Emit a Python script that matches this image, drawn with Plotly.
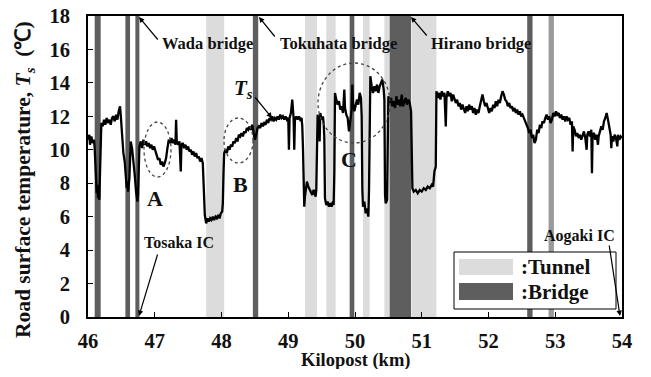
import plotly.graph_objects as go

# ---------------- data ----------------
kilopost = [
    46.00, 46.02, 46.03, 46.05, 46.07, 46.09, 46.10, 46.11,
    46.12, 46.13, 46.14, 46.15, 46.16, 46.17, 46.18, 46.19,
    46.20, 46.22, 46.24, 46.26, 46.28, 46.30, 46.32, 46.34,
    46.36, 46.38, 46.40, 46.42, 46.44, 46.46, 46.48, 46.49,
    46.50, 46.51, 46.52, 46.53, 46.55, 46.57, 46.58, 46.59,
    46.60, 46.62, 46.63, 46.64, 46.66, 46.68, 46.70, 46.72,
    46.74, 46.75, 46.76, 46.77, 46.79, 46.81, 46.83, 46.85,
    46.87, 46.89, 46.91, 46.93, 46.95, 46.97, 46.99, 47.01,
    47.03, 47.05, 47.07, 47.09, 47.11, 47.13, 47.15, 47.17,
    47.19, 47.21, 47.23, 47.25, 47.27, 47.29, 47.31, 47.32,
    47.33, 47.35, 47.37, 47.39, 47.40, 47.42, 47.44, 47.46,
    47.48, 47.50, 47.52, 47.54, 47.56, 47.58, 47.60, 47.62,
    47.64, 47.66, 47.68, 47.70, 47.72, 47.73, 47.74, 47.75,
    47.77, 47.79, 47.81, 47.83, 47.85, 47.87, 47.89, 47.91,
    47.93, 47.95, 47.97, 47.99, 48.01, 48.02, 48.03, 48.04,
    48.06, 48.08, 48.10, 48.12, 48.14, 48.16, 48.18, 48.20,
    48.22, 48.24, 48.26, 48.28, 48.30, 48.32, 48.34, 48.36,
    48.38, 48.40, 48.42, 48.44, 48.46, 48.48, 48.50, 48.52,
    48.54, 48.56, 48.58, 48.60, 48.62, 48.64, 48.66, 48.68,
    48.70, 48.72, 48.74, 48.76, 48.78, 48.80, 48.82, 48.84,
    48.86, 48.88, 48.90, 48.92, 48.94, 48.96, 48.98, 49.00,
    49.01, 49.02, 49.04, 49.06, 49.07, 49.08, 49.09, 49.10,
    49.12, 49.14, 49.16, 49.18, 49.20, 49.21, 49.22, 49.23,
    49.24, 49.25, 49.26, 49.28, 49.30, 49.32, 49.34, 49.36,
    49.38, 49.40, 49.41, 49.42, 49.43, 49.44, 49.45, 49.46,
    49.47, 49.48, 49.50, 49.52, 49.53, 49.54, 49.55, 49.57,
    49.59, 49.61, 49.63, 49.65, 49.67, 49.68, 49.69, 49.70,
    49.72, 49.74, 49.76, 49.78, 49.80, 49.82, 49.84, 49.85,
    49.87, 49.89, 49.91, 49.93, 49.95, 49.96, 49.97, 49.99,
    50.01, 50.03, 50.05, 50.07, 50.09, 50.10, 50.11, 50.12,
    50.14, 50.16, 50.18, 50.20, 50.21, 50.22, 50.23, 50.25,
    50.27, 50.29, 50.31, 50.33, 50.35, 50.37, 50.39, 50.41,
    50.43, 50.44, 50.45, 50.46, 50.48, 50.49, 50.50, 50.52,
    50.54, 50.56, 50.58, 50.60, 50.62, 50.64, 50.66, 50.68,
    50.70, 50.72, 50.74, 50.76, 50.78, 50.80, 50.82, 50.84,
    50.85, 50.86, 50.88, 50.91, 50.94, 50.97, 51.00, 51.03,
    51.06, 51.09, 51.12, 51.15, 51.17, 51.19, 51.21, 51.22,
    51.24, 51.26, 51.28, 51.30, 51.32, 51.34, 51.36, 51.37,
    51.39, 51.41, 51.43, 51.45, 51.47, 51.49, 51.51, 51.53,
    51.55, 51.57, 51.59, 51.61, 51.63, 51.65, 51.67, 51.69,
    51.71, 51.73, 51.75, 51.77, 51.79, 51.81, 51.83, 51.85,
    51.87, 51.89, 51.91, 51.93, 51.95, 51.97, 51.99, 52.01,
    52.03, 52.05, 52.07, 52.09, 52.11, 52.13, 52.15, 52.17,
    52.19, 52.21, 52.23, 52.25, 52.27, 52.29, 52.31, 52.33,
    52.35, 52.37, 52.39, 52.41, 52.43, 52.45, 52.47, 52.49,
    52.51, 52.53, 52.55, 52.57, 52.59, 52.61, 52.63, 52.65,
    52.67, 52.69, 52.71, 52.73, 52.75, 52.77, 52.79, 52.81,
    52.83, 52.85, 52.87, 52.89, 52.91, 52.93, 52.95, 52.97,
    52.99, 53.01, 53.03, 53.05, 53.07, 53.09, 53.11, 53.13,
    53.15, 53.17, 53.19, 53.21, 53.23, 53.25, 53.26, 53.27,
    53.29, 53.31, 53.33, 53.35, 53.37, 53.39, 53.41, 53.43,
    53.45, 53.47, 53.48, 53.50, 53.52, 53.54, 53.55, 53.56,
    53.58, 53.60, 53.62, 53.64, 53.65, 53.67, 53.69, 53.71,
    53.73, 53.75, 53.77, 53.79, 53.81, 53.83, 53.84, 53.85,
    53.87, 53.89, 53.91, 53.93, 53.94, 53.96, 53.98, 54.00,
]
ts = [
    10.6, 10.9, 10.3, 10.8, 10.4, 10.6, 10.1, 9.4,
    8.2, 7.4, 7.9, 7.1, 7.6, 7.0, 8.6, 10.6,
    11.6, 11.4, 11.8, 11.5, 11.9, 11.6, 11.8, 11.5,
    11.9, 12.0, 11.7, 12.1, 11.8, 12.3, 12.6, 12.1,
    11.5, 10.8, 10.2, 9.8, 9.3, 8.5, 7.7, 8.1,
    7.5, 8.3, 9.7, 10.5, 10.1, 9.4, 8.5, 7.5,
    6.9, 7.3, 8.9, 10.2, 10.5, 10.1, 10.6, 10.3,
    10.5, 10.2, 10.4, 10.1, 10.3, 10.0, 10.2, 9.9,
    9.7, 9.4, 9.5, 9.1, 9.3, 9.0, 9.2, 9.5,
    10.1, 10.6, 10.4, 10.7, 10.4, 10.6, 10.3, 11.8,
    10.5, 10.3, 10.5, 8.7, 10.3, 10.4, 10.1, 10.3,
    10.0, 10.2, 9.9, 10.0, 9.7, 9.9, 9.6, 9.8,
    9.5, 9.6, 9.3, 9.5, 9.2, 8.4, 7.0, 6.1,
    5.6, 5.9, 5.7, 5.9, 5.8, 6.0, 5.8, 6.0,
    5.9, 6.1, 5.9, 6.2, 6.3, 6.8, 8.6, 9.8,
    10.0, 9.8, 10.2, 10.0, 10.3, 10.2, 10.5, 10.4,
    10.7, 10.5, 10.9, 10.8, 11.0, 10.8, 11.1, 11.0,
    11.3, 11.2, 11.4, 11.2, 11.5, 11.1, 10.6, 10.9,
    11.3, 11.4, 11.3, 11.6, 11.4, 11.6, 11.5, 11.8,
    11.6, 11.9, 11.8, 12.0, 11.7, 11.9, 11.8, 12.0,
    11.8, 12.1, 11.9, 12.0, 11.8, 12.0, 11.8, 11.9,
    10.0, 11.9, 12.2, 13.0, 12.2, 11.9, 10.0, 11.8,
    12.0, 11.8, 12.0, 11.8, 11.9, 11.4, 10.2, 7.6,
    6.6, 7.2, 7.6, 8.1, 7.8, 7.6, 7.5, 7.3,
    7.6, 7.4, 7.2, 7.6, 9.2, 12.1, 11.8, 12.0,
    10.5, 12.2, 11.8, 12.0, 11.6, 10.8, 7.1, 6.7,
    6.9, 6.6, 6.8, 6.6, 6.9, 6.7, 8.6, 13.4,
    13.0, 12.7, 12.9, 12.4, 12.6, 12.2, 13.6, 12.5,
    12.1, 11.9, 11.1, 11.9, 12.4, 13.9, 12.8, 12.3,
    12.7, 13.0, 12.7, 13.4, 13.1, 12.0, 7.6, 6.6,
    6.9, 6.2, 6.5, 6.0, 7.6, 14.2, 14.4, 13.8,
    13.4, 13.8, 13.5, 13.9, 13.4, 13.8, 14.0, 14.2,
    13.6, 13.0, 7.3, 6.8, 7.0, 9.2, 13.2, 12.8,
    13.1, 12.6, 12.9, 12.5, 13.2, 12.7, 13.0, 12.6,
    13.3, 12.6, 12.9, 13.1, 12.7, 13.0, 12.8, 12.3,
    10.0, 7.7, 7.5, 7.6, 7.4, 7.6, 7.5, 7.7,
    7.6, 7.8, 7.7, 7.9, 7.8, 8.7, 9.0, 13.5,
    13.1, 13.4, 13.0, 13.5, 13.2, 13.4, 11.4, 13.1,
    13.5, 13.2, 13.4, 12.9, 13.3, 13.1, 12.8, 13.0,
    12.6, 12.8, 12.4, 12.7, 12.5, 12.2, 12.6, 12.3,
    12.7, 12.4, 12.6, 12.2, 12.5, 12.1, 12.4, 12.2,
    12.6, 13.0, 13.3, 12.9, 12.6, 12.8, 12.4, 12.2,
    12.5, 12.3, 12.7, 12.5, 12.9, 12.6, 13.0, 12.8,
    13.2, 13.5, 13.3, 13.0, 12.9, 12.6, 12.8, 12.5,
    12.6, 12.3, 12.5, 12.2, 12.4, 12.1, 12.3, 12.0,
    12.1, 11.9, 11.8, 11.5, 11.3, 11.0, 11.2, 10.7,
    10.9, 10.4, 10.6, 11.2, 11.0, 11.5, 11.3, 11.7,
    11.6, 11.9, 12.1, 11.8, 12.0, 11.6, 11.8, 12.2,
    12.0, 12.3, 12.1, 12.2, 11.9, 12.1, 11.8, 12.0,
    11.7, 12.0, 11.8, 11.9, 11.5, 11.7, 9.9, 11.4,
    11.2, 10.8, 11.0, 10.7, 10.9, 10.6, 10.9, 11.1,
    10.7, 10.0, 10.9, 11.1, 10.8, 11.2, 8.6, 10.9,
    11.0, 10.6, 10.9, 10.3, 10.8, 11.1, 11.4, 11.2,
    11.7, 11.9, 12.2, 11.8, 11.3, 10.9, 10.1, 10.8,
    10.5, 10.9, 10.7, 10.2, 10.9, 10.6, 10.8, 10.7,
]

tunnels = [(47.77, 48.04), (49.25, 49.43), (49.57, 49.71), (50.12, 50.22),
           (50.44, 50.52), (50.85, 51.22)]
bridges = [(46.10, 46.19), (46.56, 46.63), (46.71, 46.77), (48.47, 48.55),
           (49.92, 49.99), (50.52, 50.84), (52.58, 52.66)]
bridges_light = [(52.90, 52.98)]

x_ticks = [46, 47, 48, 49, 50, 51, 52, 53, 54]
y_ticks = [0, 2, 4, 6, 8, 10, 12, 14, 16, 18]

# ---------------- layout helpers (reference pixel -> data / paper) ----------------
L, R, T, B = 88, 622, 16, 317
X0, X1, Y0, Y1 = 46, 54, 0, 18
OFF = 8                      # page body margin
W, H = 651 - 2 * OFF, 377 - 2 * OFF


def kx(px):
    return X0 + (px - L) * (X1 - X0) / (R - L)


def ty(py):
    return Y0 + (B - py) * (Y1 - Y0) / (B - T)


def paper_x(px):
    return (px - L) / (R - L)


def paper_y(py):
    return (B - py) / (B - T)


FONT = "Liberation Serif"
TUNNEL_C = "#dcdcdc"
BRIDGE_C = "#5e5e5e"

fig = go.Figure()
fig.add_trace(go.Scatter(x=kilopost, y=ts, mode="lines",
                         line=dict(color="black", width=2.3),
                         showlegend=False, hoverinfo="skip"))

shapes = []
for a, b in tunnels:
    shapes.append(dict(type="rect", xref="x", yref="y", x0=a, x1=b, y0=0, y1=18,
                       fillcolor=TUNNEL_C, line=dict(width=0), layer="below"))
for a, b in bridges:
    shapes.append(dict(type="rect", xref="x", yref="y", x0=a, x1=b, y0=0, y1=18,
                       fillcolor=BRIDGE_C, line=dict(width=0), layer="below"))
for a, b in bridges_light:
    shapes.append(dict(type="rect", xref="x", yref="y", x0=a, x1=b, y0=0, y1=18,
                       fillcolor="#9a9a9a", line=dict(width=0), layer="below"))

# dotted ellipses A, B, C
for (px0, px1, py0, py1) in [(144, 171, 122, 177), (224, 253, 118, 163), (318, 390, 63, 143)]:
    shapes.append(dict(type="circle", xref="x", yref="y",
                       x0=kx(px0), x1=kx(px1), y0=ty(py1), y1=ty(py0),
                       line=dict(color="#444", width=1.3, dash="dot")))

# manual legend
shapes.append(dict(type="rect", xref="x", yref="y", x0=kx(454), x1=kx(616),
                   y0=ty(309), y1=ty(252), fillcolor="white",
                   line=dict(color="black", width=1), layer="above"))
shapes.append(dict(type="rect", xref="x", yref="y", x0=kx(459), x1=kx(513),
                   y0=ty(275), y1=ty(259), fillcolor=TUNNEL_C,
                   line=dict(width=0), layer="above"))
shapes.append(dict(type="rect", xref="x", yref="y", x0=kx(459), x1=kx(513),
                   y0=ty(300), y1=ty(283), fillcolor=BRIDGE_C,
                   line=dict(width=0), layer="above"))

ann = []


def text(s, px, py, size, xanchor="center", italic=False, angle=0, paper=False):
    if paper:
        pos = dict(x=paper_x(px), y=paper_y(py), xref="paper", yref="paper")
    else:
        pos = dict(x=kx(px), y=ty(py), xref="x", yref="y")
    ann.append(dict(text=s, **pos,
                    xanchor=xanchor, yanchor="middle", showarrow=False,
                    textangle=angle,
                    font=dict(family=FONT, size=size, color="#111", weight="bold",
                              style="italic" if italic else "normal")))


def arrow(tip_px, tip_py, tail_px, tail_py):
    ann.append(dict(text="", x=kx(tip_px), y=ty(tip_py), xref="x", yref="y",
                    ax=tail_px - tip_px, ay=tail_py - tip_py, showarrow=True,
                    arrowhead=2, arrowsize=0.9, arrowwidth=1.2, arrowcolor="black"))


text("Wada bridge", 207, 43, 16.5)
arrow(139, 17, 159, 41)
text("Tokuhata bridge", 338, 43, 16.5)
arrow(259, 17, 276, 38)
text("Hirano bridge", 481, 43, 16.5)
arrow(411, 17, 428, 37)
text("T<sub>s</sub>", 243, 89, 21, italic=True)
arrow(272, 118, 254, 96)
text("A", 155, 198, 22)
text("B", 240, 184, 22)
text("C", 349, 159, 22)
text("Tosaka IC", 179, 242, 16)
arrow(139, 316, 158, 253)
text("Aogaki IC", 579, 236, 16)
arrow(620, 316, 609, 244)
text(":Tunnel", 519, 267, 21, xanchor="left")
text(":Bridge", 519, 292, 21, xanchor="left")

# axis titles
text("Kilopost (km)", 355, 360, 18.5, paper=True)
text("Road surface temperature, <i>T<sub>s</sub></i>  (℃)", 24, 180, 21.5,
     angle=-90, paper=True)

axis_common = dict(showline=True, linecolor="black", linewidth=2, mirror=True,
                   ticks="inside", ticklen=5, tickcolor="black", tickwidth=1,
                   showgrid=False, zeroline=False, ticklabeloverflow="allow",
                   automargin=False,
                   tickfont=dict(family=FONT, size=20.5, color="#111", weight="bold"))

fig.update_layout(
    width=W, height=H,
    margin=dict(l=L - OFF, r=W - (R - OFF), t=T - OFF, b=H - (B - OFF)),
    paper_bgcolor="white", plot_bgcolor="white",
    shapes=shapes, annotations=ann,
    xaxis=dict(range=[X0, X1], tickvals=x_ticks, **axis_common,
               ticklabelstandoff=4),
    yaxis=dict(range=[Y0, Y1], tickvals=y_ticks, **axis_common,
               ticklabelstandoff=12),
)

fig.write_html("out.html")
